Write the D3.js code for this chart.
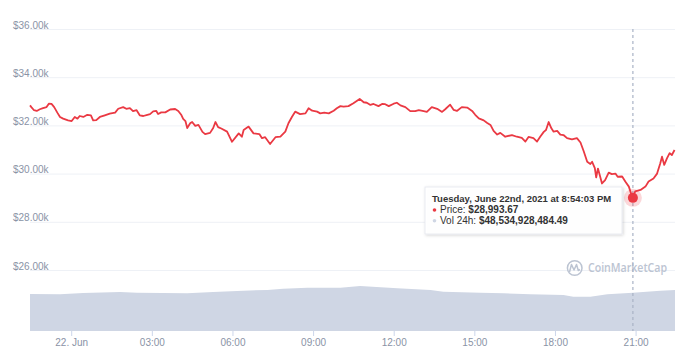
<!DOCTYPE html>
<html><head><meta charset="utf-8">
<script src="https://cdn.jsdelivr.net/npm/d3@7"></script>
<style>body{margin:0;background:#fff} svg{display:block}</style>
</head><body><svg id="c" width="680" height="360"></svg>
<script>
// Price series: minutes relative to 22 Jun 2021 00:00, price in USD
const priceMinutes = [-92,-89,-83,-77,-70,-63,-55,-50,-44,-38,-31,-25,-18,-7,1,8,14,19,27,36,44,49,56,64,75,86,98,105,116,123,131,138,146,153,161,170,176,183,190,194,201,210,221,232,239,246,250,255,259,266,270,277,284,293,299,310,317,322,328,335,348,359,374,381,385,396,407,420,426,433,444,456,467,478,485,493,500,511,523,530,538,549,556,565,575,586,593,601,608,619,630,644,653,660,668,675,686,694,701,709,720,727,735,746,757,768,776,787,794,805,817,828,835,846,854,861,872,884,895,902,910,921,928,936,943,951,958,969,984,995,1006,1014,1021,1032,1040,1047,1055,1060,1066,1072,1077,1085,1092,1099,1107,1118,1129,1137,1144,1152,1159,1163,1169,1172,1176,1181,1185,1192,1200,1207,1215,1220,1230,1237,1245,1252,1254,1259,1271,1282,1289,1300,1308,1315,1319,1324,1330,1336,1341,1347];
const priceValues = [32830,32760,32630,32600,32670,32720,32760,32900,32890,32760,32530,32350,32280,32210,32180,32350,32280,32390,32350,32440,32420,32210,32220,32350,32420,32490,32530,32690,32760,32690,32720,32590,32630,32420,32390,32440,32470,32580,32600,32470,32540,32540,32660,32680,32600,32430,32270,32180,31890,32100,32140,31980,32020,31730,31640,31690,31890,32140,31930,31870,31740,31320,31670,31530,31810,31950,31670,31640,31470,31510,31230,31510,31530,31740,32090,32360,32570,32470,32500,32710,32610,32570,32500,32530,32500,32610,32710,32800,32780,32800,32920,33100,32960,32940,32850,32890,32800,32890,32880,32800,32900,32940,32830,32760,32590,32590,32630,32590,32560,32760,32690,32560,32670,32860,32640,32600,32760,32740,32600,32440,32290,32210,32110,32020,31770,31620,31690,31530,31600,31530,31480,31330,31520,31470,31330,31530,31730,31810,32140,31880,31740,31770,31620,31600,31470,31420,31470,31290,30940,30490,30400,30490,30230,29840,30210,29870,29590,29730,30040,29980,30000,29870,29880,29670,29460,29050,28993.67,29260,29320,29460,29670,29800,30000,30420,30700,30360,30630,30850,30770,30980];
// 24h volume series (billions USD)
const volMinutes = [-92,-25,27,109,147,259,317,384,438,473,527,601,645,728,802,831,913,965,1025,1099,1121,1159,1197,1254,1315,1348];
const volValues = [46.9,46.6,48.3,49.4,48.5,47.8,49.4,51.1,52.0,53.6,54.9,54.9,57.0,54.1,52.0,49.8,48.5,47.8,46.5,45.6,43.5,43.5,46.5,48.53,51.1,52.0];
const yTickValues = [26000,28000,30000,32000,34000,36000];
const xTickHours = [0,3,6,9,12,15,18,21];
const xTickLabels = ["22. Jun","03:00","06:00","09:00","12:00","15:00","18:00","21:00"];
const tipMinute = 1254;
const tipTitle = "Tuesday, June 22nd, 2021 at 8:54:03 PM";
const tipPrice = "$28,993.67";
const tipVol = "$48,534,928,484.49";

const base = new Date(2021,5,22,0,0,0).getTime();
const t = m => new Date(base + m*60000);
const price = priceMinutes.map((m,i)=>({d:t(m), v:priceValues[i]}));
const vol = volMinutes.map((m,i)=>({d:t(m), v:volValues[i]}));

const svg = d3.select("#c");
const font = "'Liberation Sans', Arial, sans-serif";
const x = d3.scaleTime().domain([t(-92), t(1348)]).range([30,675]);
const y = d3.scaleLinear().domain([26000,36000]).range([270,29]);
const yv = d3.scaleLinear().domain([0,60]).range([331, 331-60*0.789]);

svg.append("defs").html(`<filter id="sh" x="-10%" y="-20%" width="130%" height="160%"><feDropShadow dx="1" dy="1" stdDeviation="1.5" flood-color="#000" flood-opacity="0.18"/></filter>`);

// volume area
svg.append("path").datum(vol)
  .attr("d", d3.area().x(d=>x(d.d)).y0(331).y1(d=>yv(d.v)))
  .attr("fill","#cfd6e4");

// y gridlines + labels
const ya = svg.append("g").attr("transform","translate(30,0)")
  .call(d3.axisRight(y).tickValues(yTickValues).tickSize(645).tickFormat(d=>"$"+d3.format(".2f")(d/1000)+"k"));
ya.select(".domain").remove();
ya.selectAll(".tick line").attr("stroke","#eef1f6");
ya.selectAll(".tick text").attr("x",-17).attr("dy",null).attr("y",-1)
  .attr("text-anchor","start").attr("fill","#8a93a6").style("font-family",font).style("font-size","10px");

// x axis
const xa = svg.append("g").attr("transform","translate(0,331)")
  .call(d3.axisBottom(x).tickValues(xTickHours.map(h=>t(h*60))).tickSize(5).tickFormat((d,i)=>xTickLabels[i]));
xa.select(".domain").remove();
xa.selectAll(".tick line").attr("stroke","#ccd6eb");
xa.selectAll(".tick text").attr("fill","#8a93a6").style("font-family",font).style("font-size","10px");

// watermark
const wm = svg.append("g").attr("fill","none").attr("stroke","#bcc4d2");
wm.append("circle").attr("cx",574.7).attr("cy",268).attr("r",7.3).attr("stroke-width",1.5);
wm.append("path").attr("d","M569.5,272 L571.5,264.5 L574,270 L576.5,264.5 L578.3,270.5 L580,269.5").attr("stroke-width",1.5).attr("stroke-linejoin","round");
svg.append("text").attr("x",588).attr("y",272.3).text("CoinMarketCap")
  .attr("fill","#bcc4d2").style("font-family","'Open Sans', sans-serif").style("font-size","12px").style("font-weight","600")
  .attr("textLength",79).attr("lengthAdjust","spacingAndGlyphs");

// crosshair
const tx = x(t(tipMinute));
svg.append("line").attr("x1",tx).attr("x2",tx).attr("y1",29).attr("y2",331)
  .attr("stroke","#a9b3c6").attr("stroke-width",1.2).attr("stroke-dasharray","3,3");

// price line
svg.append("path").datum(price)
  .attr("d", d3.line().x(d=>x(d.d)).y(d=>y(d.v)))
  .attr("fill","none").attr("stroke","#ea3943").attr("stroke-width",1.8).attr("stroke-linejoin","round");

// hover dot
const ty = y(28993.67);
svg.append("circle").attr("cx",tx).attr("cy",ty).attr("r",9).attr("fill","#ea3943").attr("opacity",0.2);
svg.append("circle").attr("cx",tx).attr("cy",ty).attr("r",5).attr("fill","#ea3943");

// tooltip
const tip = svg.append("g");
tip.append("rect").attr("x",425).attr("y",187).attr("width",197).attr("height",47)
  .attr("fill","#fff").attr("fill-opacity",0.96).attr("stroke","#e4e7ee").attr("stroke-width",0.8).attr("filter","url(#sh)");
const tt = tip.append("text").style("font-family",font).style("font-size","9.5px").attr("fill","#333");
tt.append("tspan").attr("x",432).attr("y",202).style("font-weight","bold").text(tipTitle);
tip.append("circle").attr("cx",434.5).attr("cy",210).attr("r",1.8).attr("fill","#ea3943");
tip.append("circle").attr("cx",434.5).attr("cy",220.8).attr("r",1.8).attr("fill","#cfd6e4");
const r2 = tip.append("text").attr("x",440).attr("y",213.3).style("font-family",font).style("font-size","10px").attr("fill","#333");
r2.append("tspan").text("Price: ");
r2.append("tspan").style("font-weight","bold").text(tipPrice);
const r3 = tip.append("text").attr("x",440).attr("y",224.1).style("font-family",font).style("font-size","10px").attr("fill","#333");
r3.append("tspan").text("Vol 24h: ");
r3.append("tspan").style("font-weight","bold").text(tipVol);
</script>
</body></html>
